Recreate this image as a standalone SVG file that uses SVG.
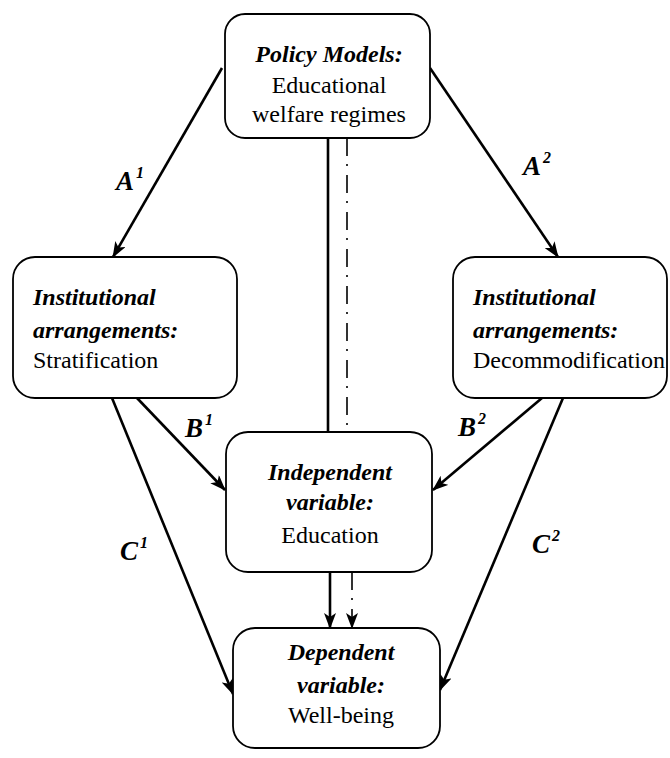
<svg xmlns="http://www.w3.org/2000/svg" width="670" height="758" viewBox="0 0 670 758">
<style>
.box{fill:#fff;stroke:#000;stroke-width:1.8}
.h{font-size:24px;font-weight:bold;font-style:italic;fill:#000}
.t{font-size:24px;fill:#000}
.lbl{font-size:27px;font-weight:bold;font-style:italic;fill:#000}
.sup{font-size:16px}
.c{stroke:#000;stroke-width:2.6;fill:none}
.dd{stroke:#000;stroke-width:1.6;fill:none;stroke-dasharray:18 8 2 9}
</style>
<defs>
<marker id="ah" markerUnits="userSpaceOnUse" markerWidth="16" markerHeight="12" refX="15" refY="6" orient="auto">
<path d="M0,0 L16,6 L0,12 L4,6 z" fill="#000"/>
</marker>
</defs>
<g id="connectors">
<line class="c" x1="222" y1="68" x2="113" y2="257" marker-end="url(#ah)"/>
<line class="c" x1="430" y1="68" x2="558" y2="257" marker-end="url(#ah)"/>
<line class="c" x1="328" y1="138" x2="328" y2="432"/>
<line class="dd" x1="347" y1="138" x2="347" y2="432"/>
<line class="c" x1="137" y1="398" x2="225" y2="490" marker-end="url(#ah)"/>
<line class="c" x1="542" y1="398" x2="433" y2="490" marker-end="url(#ah)"/>
<line class="c" x1="112" y1="398" x2="233" y2="694" marker-end="url(#ah)"/>
<line class="c" x1="563" y1="398" x2="440" y2="690" marker-end="url(#ah)"/>
<line class="c" x1="330" y1="572" x2="330" y2="628" marker-end="url(#ah)"/>
<line class="dd" x1="352" y1="572" x2="352" y2="628" marker-end="url(#ah)"/>
</g>
<g font-family="Liberation Serif, Times New Roman, DejaVu Serif, serif">
<g id="labels">
<text class="lbl" x="116" y="190">A<tspan class="sup" dx="2" dy="-12">1</tspan></text>
<text class="lbl" x="523" y="175">A<tspan class="sup" dx="2" dy="-12">2</tspan></text>
<text class="lbl" x="185" y="437">B<tspan class="sup" dx="2" dy="-12">1</tspan></text>
<text class="lbl" x="458" y="436">B<tspan class="sup" dx="2" dy="-12">2</tspan></text>
<text class="lbl" x="120" y="560">C<tspan class="sup" dx="2" dy="-12">1</tspan></text>
<text class="lbl" x="532" y="553">C<tspan class="sup" dx="2" dy="-12">2</tspan></text>
</g>
<g id="policy">
<rect class="box" x="225" y="14" width="205" height="124" rx="20"/>
<text class="h" x="329" y="62" text-anchor="middle">Policy Models:</text>
<text class="t" x="329" y="93" text-anchor="middle">Educational</text>
<text class="t" x="329" y="122" text-anchor="middle">welfare regimes</text>
</g>
<g id="stratification">
<rect class="box" x="13" y="257" width="224" height="141" rx="22"/>
<text class="h" x="33" y="305">Institutional</text>
<text class="h" x="33" y="338">arrangements:</text>
<text class="t" x="33" y="368">Stratification</text>
</g>
<g id="decommodification">
<rect class="box" x="453" y="257" width="214" height="141" rx="22"/>
<text class="h" x="473" y="305">Institutional</text>
<text class="h" x="473" y="338">arrangements:</text>
<text class="t" x="473" y="368">Decommodification</text>
</g>
<g id="education">
<rect class="box" x="226" y="432" width="206" height="140" rx="22"/>
<text class="h" x="330" y="480" text-anchor="middle">Independent</text>
<text class="h" x="330" y="510" text-anchor="middle">variable:</text>
<text class="t" x="330" y="543" text-anchor="middle">Education</text>
</g>
<g id="wellbeing">
<rect class="box" x="233" y="628" width="207" height="120" rx="22"/>
<text class="h" x="341" y="660" text-anchor="middle">Dependent</text>
<text class="h" x="341" y="693" text-anchor="middle">variable:</text>
<text class="t" x="341" y="723" text-anchor="middle">Well-being</text>
</g>
</g>
</svg>
